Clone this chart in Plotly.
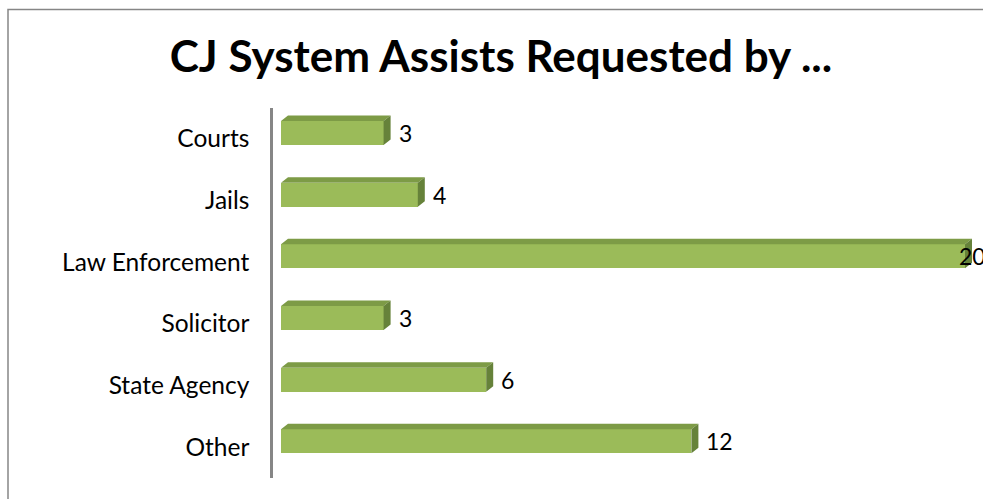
import plotly.graph_objects as go

# ---- data ----
categories = ["Courts", "Jails", "Law Enforcement", "Solicitor", "State Agency", "Other"]
values = [3, 4, 20, 3, 6, 12]
title_text = "CJ System Assists Requested by ..."

# ---- geometry / style ----
W, H = 983, 499
ML, MR, MT, MB = 273, 0, 108, 21
PX_PER_UNIT = 34.2
ZERO_PX = 8  # distance from axis wall to value zero (pixels)
plot_w = W - ML - MR
plot_h = H - MT - MB
x0 = -ZERO_PX / PX_PER_UNIT
x1 = x0 + plot_w / PX_PER_UNIT
slot_px = plot_h / len(categories)

dx = 7 / PX_PER_UNIT        # depth offset in x (value units)
dy = 5.5 / slot_px          # depth offset in y (category units)
bar_h = 24 / slot_px        # front-face thickness
off = -5.8 / slot_px        # front-face centre offset from slot centre

FRONT = "#9BBB59"
TOP = "#7D9B46"
SIDE = "#66823A"
FONT = "Lato"

ypos = list(range(len(categories)))
fig = go.Figure()

# front faces
fig.add_trace(go.Bar(
    x=values, y=[p + off for p in ypos], orientation="h", width=bar_h, base=0,
    marker=dict(color=FRONT, line=dict(width=0)), hoverinfo="skip", showlegend=False,
))

# top faces and right faces
tx, ty, sx, sy = [], [], [], []
for p, v in zip(ypos, values):
    yt = p + off - bar_h / 2
    yb = p + off + bar_h / 2
    tx += [0, dx, v + dx, v, 0, None]
    ty += [yt, yt - dy, yt - dy, yt, yt, None]
    sx += [v, v + dx, v + dx, v, v, None]
    sy += [yt, yt - dy, yb - dy, yb, yt, None]
fig.add_trace(go.Scatter(x=tx, y=ty, fill="toself", fillcolor=TOP, mode="lines",
                         line=dict(width=0, color=TOP), hoverinfo="skip", showlegend=False))
fig.add_trace(go.Scatter(x=sx, y=sy, fill="toself", fillcolor=SIDE, mode="lines",
                         line=dict(width=0, color=SIDE), hoverinfo="skip", showlegend=False))

# data labels
label_w = 26 / PX_PER_UNIT
for p, v in zip(ypos, values):
    if v + dx + (8 / PX_PER_UNIT) + label_w > x1:
        fig.add_annotation(x=x1, y=p + off, text=str(v), showarrow=False,
                           xanchor="right", yanchor="middle", xshift=5,
                           font=dict(family=FONT, size=23, color="black"))
    else:
        fig.add_annotation(x=v + dx, y=p + off, text=str(v), showarrow=False,
                           xanchor="left", yanchor="middle", xshift=6,
                           font=dict(family=FONT, size=23, color="black"))

# chart border (top and left visible)
fig.add_shape(type="rect", xref="paper", yref="paper",
              x0=(8 - ML) / plot_w, x1=2,
              y0=-1, y1=(H - MB - 9.5) / plot_h,
              line=dict(color="#868686", width=1.5), fillcolor="rgba(0,0,0,0)", layer="below")

fig.update_layout(
    width=W, height=H,
    margin=dict(l=ML, r=MR, t=MT, b=MB),
    paper_bgcolor="white", plot_bgcolor="white",
    title=dict(text="<b>" + title_text + "</b>", x=501 / W, xanchor="center",
               xref="container", yref="container", y=1 - 57 / H, yanchor="middle",
               font=dict(family=FONT, size=44, color="black")),
    xaxis=dict(range=[x0, x1], visible=False, fixedrange=True),
    yaxis=dict(range=[len(categories) - 0.5, -0.5], tickmode="array", tickvals=ypos,
               ticktext=categories, showline=True, linecolor="#868686", linewidth=2.5,
               showgrid=False, zeroline=False, ticks="", ticklabelstandoff=16,
               tickfont=dict(family=FONT, size=24.5, color="black"), fixedrange=True),
    bargap=0,
)

fig.write_html("out.html")
